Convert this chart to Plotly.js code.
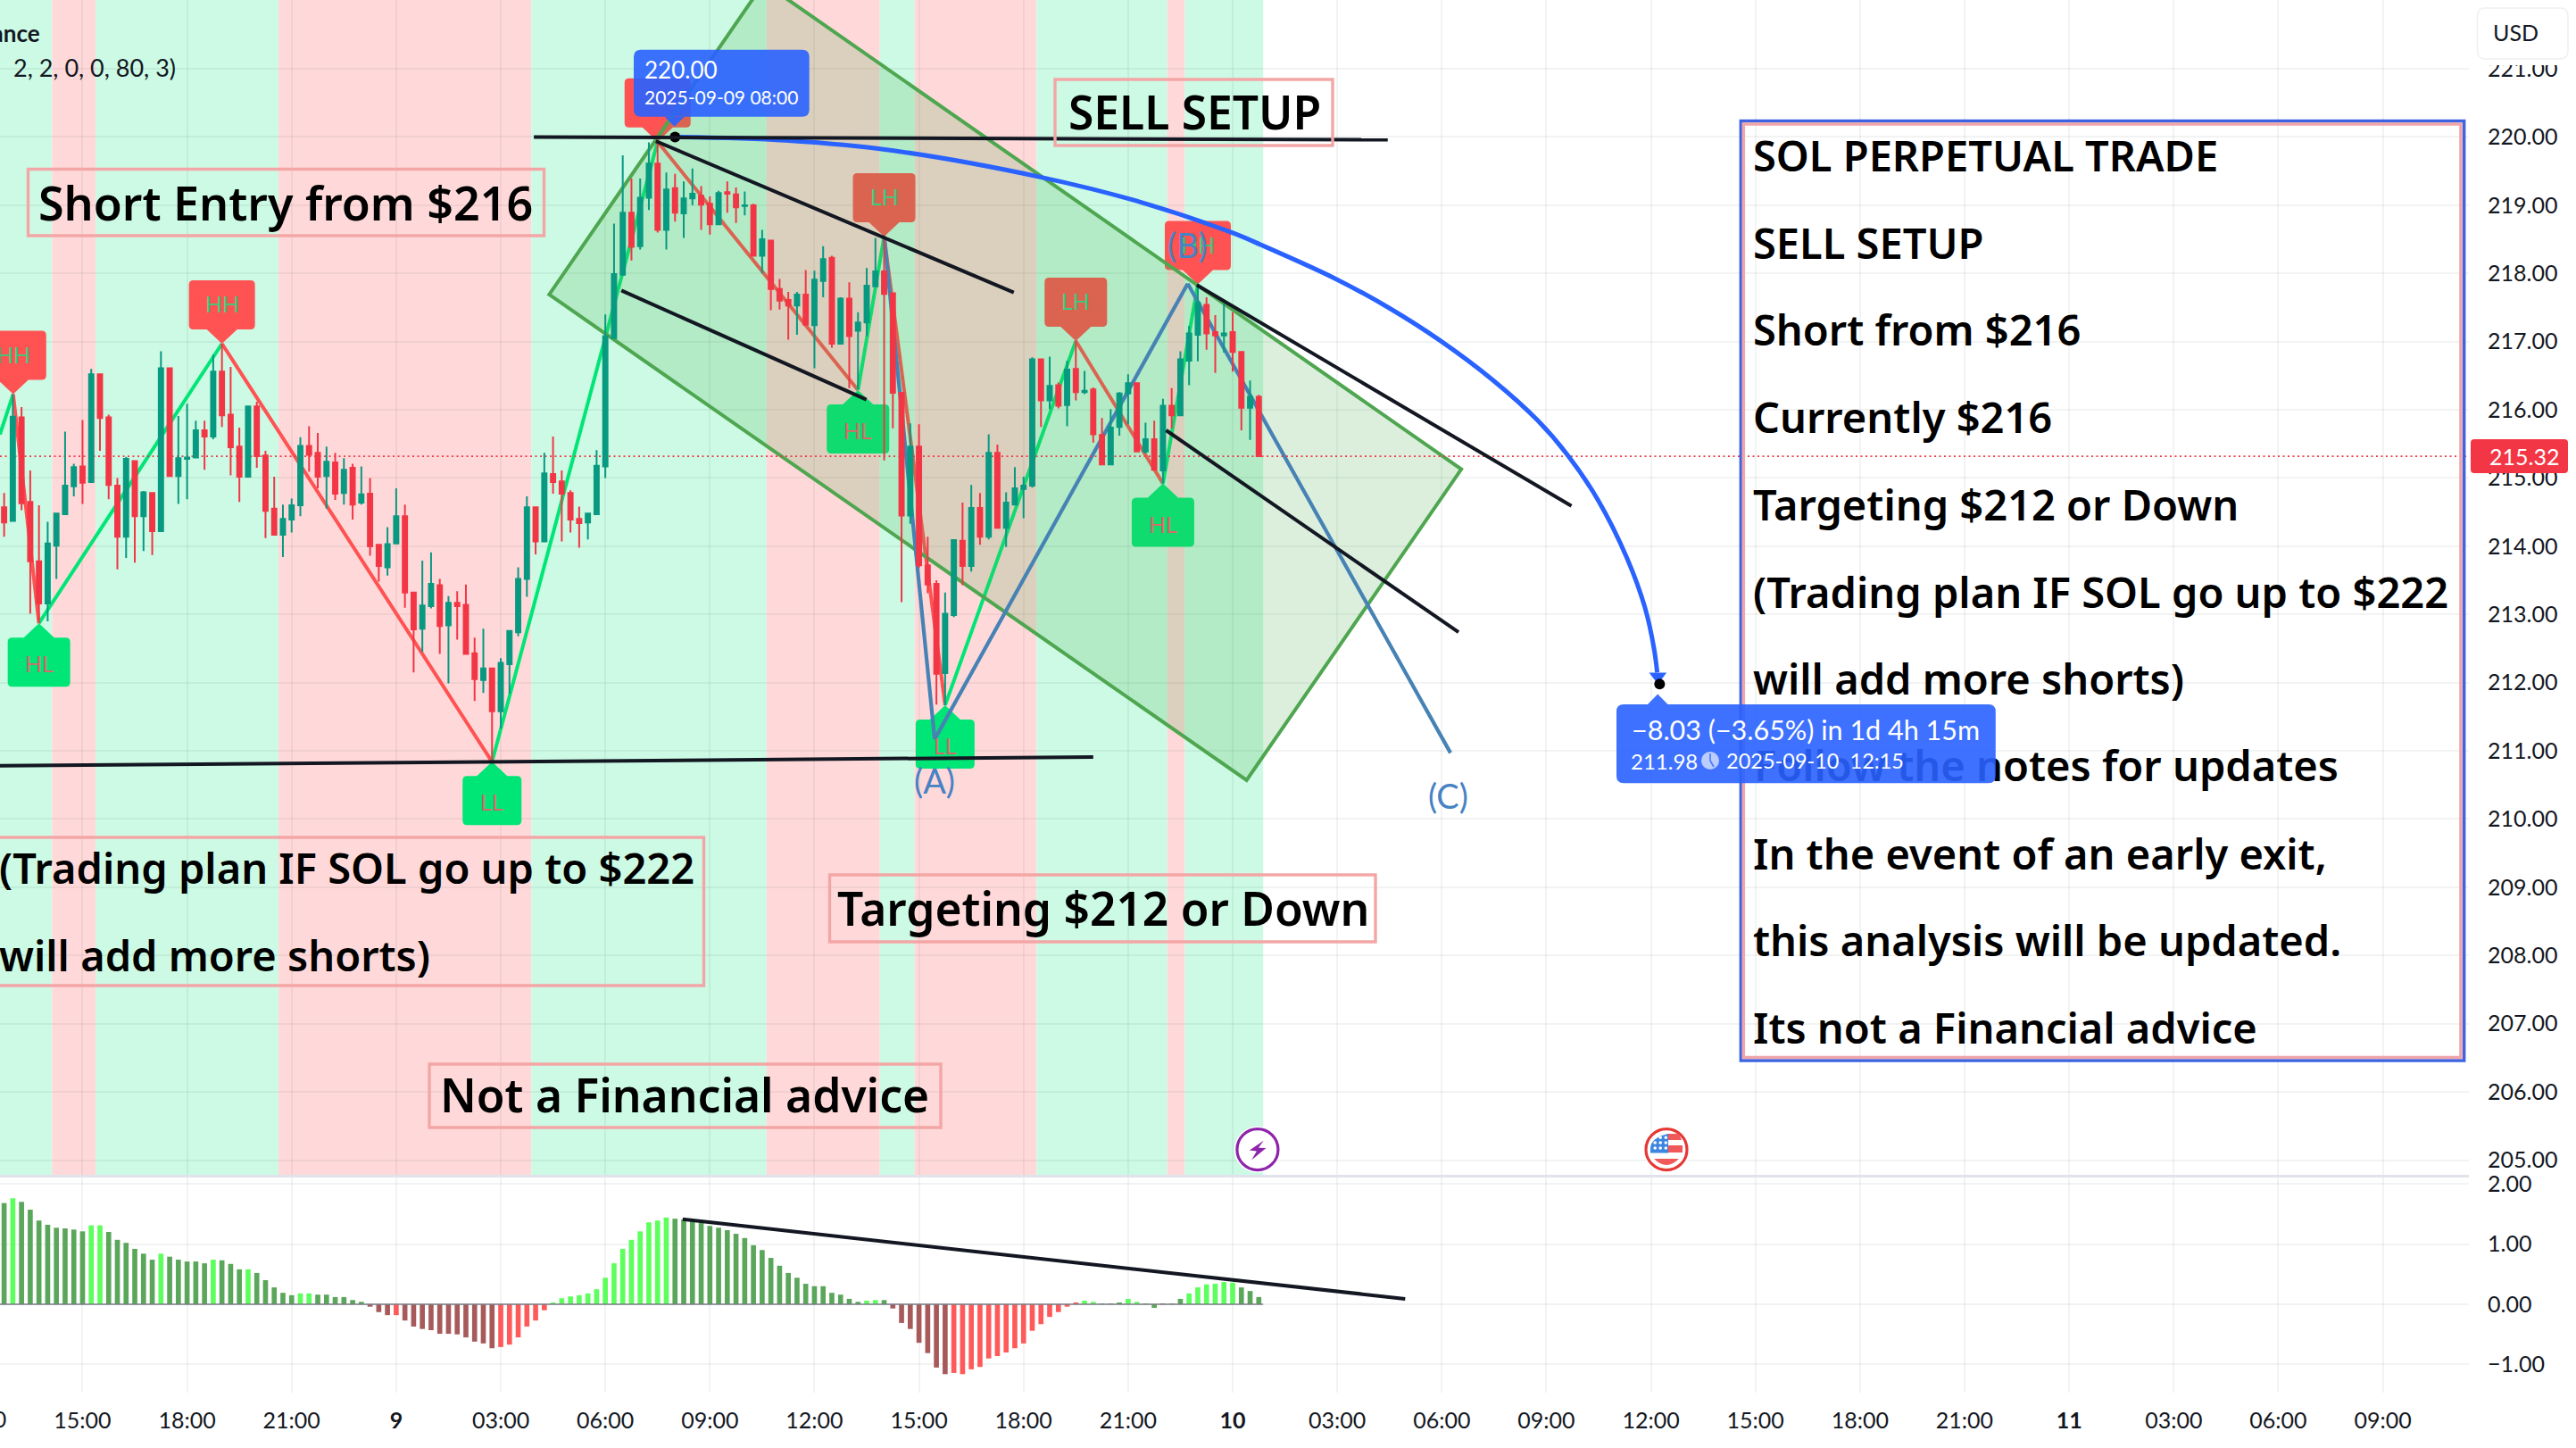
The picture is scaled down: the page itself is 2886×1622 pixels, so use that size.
<!DOCTYPE html>
<html><head><meta charset="utf-8">
<script src="https://cdn.plot.ly/plotly-3.0.1.min.js"></script>
<style>html,body{margin:0;padding:0;background:#fff}#chart{width:2886px;height:1622px}</style>
</head><body><div id="chart"></div>
<script>
// time is expressed in hours from 2025-09-09 00:00
const firstBarHour = -11.25, barStep = 0.25;
const barOpen = [214.57,214.37,215.89,214.65,213.78,213.16,214.01,214.47,214.88,215.17,214.94,216.52,215.89,214.89,214.14,215.25,214.44,214.78,214.22,216.61,215.03,215.28,215.30,215.70,215.61,216.56,215.93,215.46,215.02,216.05,215.33,214.55,214.17,214.39,214.60,215.47,215.37,215.03,215.23,214.78,215.15,214.64,214.77,214.02,213.69,214.04,214.44,213.32,212.79,213.12,213.43,212.84,213.17,213.14,212.43,212.04,212.21,211.58,212.27,212.74,213.52,214.57,214.07,215.06,214.95,214.78,214.40,214.35,214.47,215.17,217.05,217.98,218.89,218.40,219.11,219.61,218.64,219.25,218.88,219.10,219.14,219.02,218.72,219.19,219.16,218.99,219.00,218.26,218.48,217.77,217.61,217.53,217.69,217.24,217.89,218.23,216.97,217.63,217.16,217.28,217.81,218.03,217.71,216.25,214.45,215.46,213.72,213.45,212.14,212.99,214.08,213.71,214.56,214.14,215.37,214.27,214.61,214.84,214.89,216.74,216.14,216.36,216.07,216.60,216.26,216.30,215.63,215.20,215.75,216.24,216.39,215.39,215.57,215.11,216.06,215.92,216.72,217.10,217.54,217.14,217.09,217.14,216.85,216.03,216.19];
const barHigh = [214.78,216.23,216.04,215.11,214.60,214.36,214.49,215.68,215.21,215.85,216.60,216.52,215.93,215.00,215.31,215.25,214.81,214.78,216.86,216.61,215.91,216.09,215.84,215.84,216.81,216.97,216.63,215.74,216.05,216.12,215.40,215.02,214.61,214.70,215.60,215.76,215.66,215.46,215.37,215.29,215.21,215.17,215.00,214.02,214.28,214.85,214.61,213.32,213.79,213.91,213.52,213.27,213.34,213.44,212.66,212.79,212.21,212.36,212.77,213.69,214.73,214.57,215.37,215.61,215.11,214.82,214.58,214.48,215.41,217.40,218.73,219.73,219.39,219.39,219.92,219.93,219.48,219.46,219.35,219.54,219.28,219.13,219.21,219.35,219.26,219.20,219.02,218.64,218.48,217.92,217.73,217.73,218.05,218.04,218.40,218.26,217.65,217.87,217.43,218.08,218.52,218.56,217.71,216.25,215.80,215.79,214.14,213.50,213.32,214.10,214.64,214.90,214.78,215.64,215.49,214.79,215.16,215.02,216.77,216.74,216.78,216.40,216.72,217.02,216.57,216.33,215.88,216.01,216.26,216.52,216.40,215.81,215.84,216.16,216.32,216.86,217.23,217.84,217.65,217.39,217.56,217.43,216.86,216.43,216.22];
const barLow = [214.14,214.37,214.53,213.01,212.87,212.90,213.52,214.47,214.73,214.62,214.94,215.40,214.69,213.66,213.83,213.76,213.93,213.87,214.22,215.03,214.62,214.69,215.30,215.12,215.57,215.75,215.04,214.65,215.02,215.15,214.12,214.17,213.84,214.20,214.44,215.09,214.85,214.55,214.68,214.61,214.39,214.61,213.86,213.48,213.57,214.04,213.10,212.15,212.45,213.09,212.42,211.99,212.63,212.42,211.73,211.85,210.84,211.33,211.84,212.68,213.26,213.88,214.07,214.77,214.07,214.20,213.98,214.10,214.47,215.00,217.05,217.98,218.19,218.35,218.93,218.60,218.35,218.76,218.52,219.00,218.64,218.57,218.72,218.89,218.74,218.85,218.26,218.00,217.46,217.47,217.03,217.10,217.23,216.61,217.65,216.91,216.96,216.32,216.30,217.08,217.81,215.26,215.73,213.18,214.33,213.68,213.31,211.68,211.67,212.96,213.43,213.63,214.02,214.10,214.27,213.99,214.61,214.41,214.86,215.75,216.01,216.02,215.76,216.14,216.23,215.52,215.20,215.20,215.62,215.79,215.39,215.36,215.11,214.92,215.73,215.92,216.36,216.71,216.88,216.54,216.84,216.56,215.70,215.56,215.32];
const barClose = [214.35,215.90,214.63,213.78,213.16,214.04,214.48,214.89,215.16,214.93,216.52,215.88,214.90,214.14,215.28,214.44,214.79,214.22,216.61,215.03,215.29,215.30,215.70,215.61,216.56,215.92,215.45,215.02,216.05,215.32,214.52,214.17,214.40,214.60,215.47,215.34,215.02,215.24,214.77,215.12,214.61,214.76,214.00,213.71,214.03,214.44,213.32,212.78,213.13,213.45,212.83,213.17,213.12,212.42,212.05,212.21,211.58,212.29,212.76,213.52,214.57,214.07,215.07,214.94,214.77,214.39,214.34,214.48,215.18,217.08,217.99,218.89,218.39,219.11,219.61,218.64,219.23,218.89,219.10,219.17,219.01,218.72,219.18,219.17,218.97,219.00,218.26,218.50,217.77,217.60,217.53,217.69,217.25,217.91,218.21,216.97,217.63,217.08,217.28,217.82,218.03,217.70,216.25,214.45,215.46,213.72,213.44,212.13,213.01,214.09,213.71,214.56,214.14,215.37,214.27,214.64,214.85,214.89,216.74,216.14,216.35,216.06,216.59,216.26,216.28,215.64,215.20,215.74,216.24,216.39,215.39,215.57,215.12,216.06,215.92,216.74,217.12,217.57,217.12,217.09,217.12,216.85,216.03,216.19,215.32];
const oscValues = [1.68,1.76,1.70,1.57,1.39,1.32,1.27,1.26,1.24,1.21,1.31,1.31,1.20,1.07,1.02,0.92,0.84,0.74,0.84,0.79,0.74,0.71,0.71,0.68,0.74,0.73,0.67,0.58,0.58,0.52,0.40,0.28,0.19,0.15,0.18,0.18,0.16,0.16,0.12,0.12,0.07,0.04,-0.04,-0.13,-0.18,-0.18,-0.27,-0.37,-0.41,-0.43,-0.49,-0.49,-0.50,-0.55,-0.62,-0.65,-0.73,-0.71,-0.67,-0.55,-0.37,-0.27,-0.10,0.03,0.10,0.13,0.15,0.18,0.25,0.44,0.68,0.92,1.07,1.21,1.36,1.39,1.44,1.42,1.41,1.38,1.35,1.30,1.27,1.23,1.17,1.10,0.98,0.90,0.77,0.64,0.52,0.44,0.34,0.30,0.30,0.19,0.16,0.09,0.04,0.06,0.07,0.07,-0.07,-0.31,-0.41,-0.64,-0.81,-1.05,-1.16,-1.14,-1.16,-1.08,-1.04,-0.90,-0.86,-0.80,-0.73,-0.65,-0.44,-0.33,-0.21,-0.13,-0.04,0.03,0.06,0.04,0.01,0.01,0.03,0.09,0.04,0.01,-0.06,0.01,0.01,0.09,0.18,0.28,0.33,0.34,0.37,0.36,0.28,0.22,0.12];
const oscShades = "gGggggggggGGggggggGgggggGgggGgggggGGgggggg"+"rrrRrrrrrrrrrrrRRRRRR"+"GGGGGGGGGGGGGGggggg"+"gggggggggggggggggGGg"+"rrrrrrrRRRRRRRRRRRRRRR"+"GGgggGGggrggGGGGGGgggg";
const oscPalette = {g:'#5AA65A',G:'#5CFF5C',r:'#A85A5A',R:'#FF5A5A'};
const trendEdges = [-13,-9.875,-8.625,-3.375,3.875,10.625,13.875,14.875,18.375,22.125,22.625,24.875];
const trendKinds = ['up','down','up','down','up','down','up','down','up','down','up'];
const pivotHours  = [-10.99,-10.25,-5,2.75,7.5,13.25,14,15.75,19.5,22,23];
const pivotPrices = [216.23,212.87,216.97,210.84,219.93,216.29,218.54,211.67,217.01,214.92,217.84];
const pivotTags   = ['HH','HL','HH','LL','HH','HL','LH','LL','LH','HL','HH'];
const waveHours = [14,15.45,22.71,30.25];
const wavePrices = [218.54,211.17,217.85,210.97];
const waveTags = [null,'(A)','(B)','(C)'];
const blackLines = [[3.95,220,28.45,219.96],[-12,210.78,20,210.91],[7.45,219.94,17.72,217.72],[22.97,217.83,33.72,214.59],[6.46,217.75,13.49,216.15],[22.09,215.70,30.48,212.74]];
const channelHours = [4.39,24.4,30.56,10.55];
const channelPrices = [217.69,210.57,215.13,222.26];
const arrowHours = [8,11.17,14.27,18.51,21.33,23.97,24.81,26.96,28.5,29.94,31.48,32.76,33.62,34.48,35.32,35.83,36.09,36.18];
const arrowPrices = [220,219.95,219.8,219.41,219.05,218.6,218.42,217.92,217.49,217.02,216.43,215.84,215.33,214.68,213.82,213.1,212.5,212.15];
const lastPrice = 215.32;
const priceTicks = [205,206,207,208,209,210,211,212,213,214,215,216,217,218,219,220,221];
const oscTicks = [-1,0,1,2];
const oscTickText = ['\u22121.00','0.00','1.00','2.00'];
const timeTicks = [-9,-6,-3,0,3,6,9,12,15,18,21,24,27,30,33,36,39,42,45,48,51,54,57];
const timeText = ['15:00','18:00','21:00','<b>9</b>','03:00','06:00','09:00','12:00','15:00','18:00','21:00','<b>10</b>','03:00','06:00','09:00','12:00','15:00','18:00','21:00','<b>11</b>','03:00','06:00','09:00'];
const panelLines = ['SOL PERPETUAL TRADE','SELL SETUP','Short from $216','Currently $216','Targeting $212 or Down','(Trading plan IF SOL go up to $222','will add more shorts)','Follow the notes for updates','In the event of an early exit,','this analysis will be updated.','Its not a Financial advice'];

const W=2886,H=1622,FONT='Lato',BIGFONT='Noto Sans',INK='#131722',BIG=47,BIGLARGE=51.5,BIGW=600;
const px=x=>x/W, py=y=>1-y/H;
const barHours=barOpen.map((_,i)=>firstBarHour+i*barStep);
const xr=[-11.368,59.47];

function rr(x0,y0,x1,y1,r){
  const Y=v=>-v;
  return `M${x0+r},${Y(y0)} L${x1-r},${Y(y0)} Q${x1},${Y(y0)} ${x1},${Y(y0+r)} L${x1},${Y(y1-r)} Q${x1},${Y(y1)} ${x1-r},${Y(y1)} L${x0+r},${Y(y1)} Q${x0},${Y(y1)} ${x0},${Y(y1-r)} L${x0},${Y(y0+r)} Q${x0},${Y(y0)} ${x0+r},${Y(y0)} Z`;
}
function page(path,fill,line){return {type:'path',layer:'above',xref:'paper',yref:'paper',xsizemode:'pixel',ysizemode:'pixel',xanchor:0,yanchor:1,path,fillcolor:fill,line:line||{width:0}};}
function disc(cx,cy,r,fill,line){return {type:'circle',layer:'above',xref:'paper',yref:'paper',xsizemode:'pixel',ysizemode:'pixel',xanchor:px(cx),yanchor:py(cy),x0:-r,x1:r,y0:-r,y1:r,fillcolor:fill,line:line||{width:0}};}
function box(x0,y0,x1,y1,color,w){return {type:'rect',layer:'above',xref:'paper',yref:'paper',x0:px(x0),x1:px(x1),y0:py(y0),y1:py(y1),line:{color,width:w},fillcolor:'rgba(0,0,0,0)'};}
function txt(text,x,y,size,color,opt){return Object.assign({text,xref:'paper',yref:'paper',x:px(x),y:py(y),xanchor:'left',yanchor:'middle',showarrow:false,font:{family:FONT,size,color}},opt||{});}
function big(text,x,y,size){const a=txt(text,x,y,size||BIG,'#000');a.font.family=BIGFONT;a.font.weight=BIGW;return a;}
function bigC(text,x,y){const a=big(text,x,y,BIGLARGE);a.xanchor='center';return a;}

const shapes=[],annotations=[];
trendKinds.forEach((k,i)=>shapes.push({type:'rect',layer:'below',xref:'x',yref:'y',x0:trendEdges[i],x1:trendEdges[i+1],y0:204,y1:223,fillcolor:k==='up'?'#CCFAE4':'#FFD9D9',line:{width:0}}));
const zzH=[-11.37].concat(pivotHours), zzP=[215.64].concat(pivotPrices);
for(let i=0;i<zzH.length-1;i++){shapes.push({type:'line',layer:'between',xref:'x',yref:'y',x0:zzH[i],x1:zzH[i+1],y0:zzP[i],y1:zzP[i+1],line:{color:zzP[i+1]>zzP[i]?'#00E676':'#FF5252',width:4}});}
pivotTags.forEach((tag,i)=>{
  const up=tag==='HH'||tag==='LH', w=(tag==='HH'?74:tag==='LL'?66:70)/2, s=up?1:-1, r=5;
  const path=`M0,0 L-17,${s*16} L${-w+r},${s*16} Q${-w},${s*16} ${-w},${s*(16+r)} L${-w},${s*(71-r)} Q${-w},${s*71} ${-w+r},${s*71} L${w-r},${s*71} Q${w},${s*71} ${w},${s*(71-r)} L${w},${s*(16+r)} Q${w},${s*16} ${w-r},${s*16} L17,${s*16} Z`;
  shapes.push({type:'path',layer:'between',xref:'x',yref:'y',xsizemode:'pixel',ysizemode:'pixel',xanchor:pivotHours[i],yanchor:pivotPrices[i],path,fillcolor:up?'#FF5252':'#00E676',line:{width:0}});
  if(i!==4) annotations.push({text:tag,xref:'x',yref:'y',x:pivotHours[i],y:pivotPrices[i],yshift:s*45,showarrow:false,xanchor:'center',yanchor:'middle',font:{family:FONT,size:25,color:up?'#3CCB7F':'#D9686A'}});
});
shapes.push({type:'path',layer:'between',xref:'x',yref:'y',path:channelHours.map((h,i)=>(i?'L':'M')+h+','+channelPrices[i]).join(' ')+' Z',fillcolor:'rgba(76,175,80,0.2)',line:{color:'#4FA650',width:4}});
for(let i=0;i<waveHours.length-1;i++){shapes.push({type:'line',layer:'between',xref:'x',yref:'y',x0:waveHours[i],x1:waveHours[i+1],y0:wavePrices[i],y1:wavePrices[i+1],line:{color:'#4682B4',width:4.2}});}
shapes.push({type:'line',layer:'between',xref:'x',yref:'y',x0:xr[0],x1:xr[1],y0:lastPrice,y1:lastPrice,line:{color:'#F23645',width:1.8,dash:'2px,3.5px'}});
blackLines.forEach(l=>shapes.push({type:'line',layer:'above',xref:'x',yref:'y',x0:l[0],y0:l[1],x1:l[2],y1:l[3],line:{color:INK,width:4}}));
shapes.push({type:'line',layer:'above',xref:'x2',yref:'y2',x0:8.22,y0:1.41,x1:28.95,y1:0.09,line:{color:INK,width:4}});
shapes.push({type:'line',layer:'above',xref:'x2',yref:'y2',x0:xr[0],y0:0,x1:24.875,y1:0,line:{color:'rgba(120,123,134,0.75)',width:2}});
shapes.push({type:'line',layer:'above',xref:'paper',yref:'paper',x0:0,x1:px(2766),y0:py(1317.5),y1:py(1317.5),line:{color:'#E0E3EB',width:3}});
shapes.push(box(1950.3,135.5,2760.7,1188,'#3D63E3',3.4));
shapes.push(box(1953.3,139,2757,1184.5,'#F0A5AB',3.6));
shapes.push(box(31.5,189.5,609.5,264,'#F4A6A6',3.4));
shapes.push(box(1182,89,1493,163,'#F4A6A6',3.4));
shapes.push(box(-20,938,788.5,1104,'#F4A6A6',3.4));
shapes.push(box(929.5,980,1541,1055,'#F4A6A6',3.4));
shapes.push(box(481,1192,1054,1263,'#F4A6A6',3.4));
shapes.push(disc(1408.9,1287.7,26,'#fff'));
shapes.push(disc(1408.9,1287.7,23,'#fff',{color:'#8E24AA',width:3.2}));
shapes.push({type:'path',layer:'above',xref:'paper',yref:'paper',xsizemode:'pixel',ysizemode:'pixel',xanchor:px(1408.9),yanchor:py(1287.7),path:'M6.8,10 L-9.1,-0.7 L-1,-1.7 L-6.8,-11.7 L9.5,1.7 L1,2 Z',fillcolor:'#8E24AA',line:{width:0}});
shapes.push(disc(1867,1287.7,26,'#fff'));
shapes.push(disc(1867,1287.7,23,'#fff',{color:'#E53935',width:3.2}));
shapes.push(page('M1878,-1270 L1881,-1270 L1884,-1277 L1869,-1277 L1869,-1270 Z','#F0595A'));
shapes.push(page('M1869,-1283 L1885,-1283 L1885,-1291 L1869,-1291 Z','#F0595A'));
shapes.push(page('M1853,-1298 L1881,-1298 Q1874,-1305 1867,-1305 Q1860,-1305 1853,-1298 Z','#F0595A'));
shapes.push(page('M1849,-1291.5 L1849,-1286 Q1850,-1274 1869,-1270 L1869,-1291.5 Z','#3D85E0'));
[-12.8,-6.8,-0.7].forEach(dx=>[-13.4,-7.7,-1.7].forEach(dy=>shapes.push(disc(1867+dx,1287.7+dy,1.8,'#fff'))));
shapes.push(page('M2767,0 L2886,0 L2886,-73 L2767,-73 Z','#fff'));
shapes.push(page(rr(2775.5,9,2877,66,9),'#fff',{color:'#EEF0F4',width:1.5}));
shapes.push(page(rr(2768,492,2877,530,4),'#F23645'));
shapes.push({type:'rect',layer:'above',xref:'paper',yref:'paper',x0:px(1962),x1:px(2700),y0:py(887),y1:py(832),line:{width:0},fillcolor:'rgba(0,0,0,0)',label:{text:panelLines[7],textposition:'middle left',padding:0,font:{family:BIGFONT,size:BIG,color:'#000',weight:BIGW}}});
shapes.push(page(rr(710,55.7,906.7,130.7,8),'rgba(41,98,255,0.9)'));
shapes.push(page('M744.5,-130.7 L755.7,-141.7 L767,-130.7 Z','rgba(41,98,255,0.9)'));
shapes.push(page(rr(1811,789,2235.8,877.3,8),'rgba(41,98,255,0.9)'));
shapes.push(page('M1846,-789 L1857.2,-777.5 L1868.5,-789 Z','rgba(41,98,255,0.9)'));
shapes.push(disc(1916,852,10,'rgba(255,255,255,0.65)'));
shapes.push(page('M1916,-844 L1916,-852 L1920,-859','rgba(0,0,0,0)',{color:'rgba(41,98,255,0.8)',width:1.6}));

annotations.push(big('Short Entry from $216',41,226,52));
annotations.push(bigC('SELL SETUP',1338,125));
annotations.push(big(panelLines[5],-3,972));
annotations.push(big(panelLines[6],-3,1070));
annotations.push(bigC('Targeting $212 or Down',1236,1017));
annotations.push(bigC('Not a Financial advice',767,1226));
panelLines.forEach((t,i)=>{ if(i!==7) annotations.push(big(t,1962,174+i*97.72)); });
annotations.push(txt('<b>Solana / TetherUS PERPETUAL \u00b7 15 \u00b7 Binance</b>',47,37,26,INK,{xanchor:'right'}));
annotations.push(txt('2, 2, 0, 0, 80, 3)',199,75,27,INK,{xanchor:'right'}));
annotations.push(txt('USD',2791,36,25,INK));
annotations.push(txt('215.32',2787,511,25,'#fff'));
annotations.push(txt('220.00',720,78,26,'#fff'));
annotations.push(txt('2025-09-09 08:00',720,108,21,'#fff'));
annotations.push(txt('\u22128.03 (\u22123.65%) in 1d 4h 15m',1826,817,30.5,'#fff'));
annotations.push(txt('211.98',1825,852,24,'#fff'));
annotations.push(txt('2025-09-10  12:15',1932,852,23.5,'#fff'));
annotations.push(txt('12:00',-24.7,1589,25,INK,{xanchor:'center'}));
waveTags.forEach((t,i)=>{ if(!t) return;
  const yoff=i===1?-46:i===2?44:-48;
  annotations.push({text:t,xref:'x',yref:'y',x:waveHours[i],y:wavePrices[i],yshift:yoff,xshift:i===3?-3:0,showarrow:false,xanchor:'center',yanchor:'middle',font:{family:FONT,size:38,color:'#4682C4'}});
});

const traces=[
 {type:'candlestick',x:barHours,open:barOpen,high:barHigh,low:barLow,close:barClose,xaxis:'x',yaxis:'y',whiskerwidth:0,hoverinfo:'skip',
  increasing:{line:{color:'#089981',width:2},fillcolor:'#089981'},decreasing:{line:{color:'#F23645',width:2},fillcolor:'#F23645'}},
 {type:'scatter',mode:'lines',x:arrowHours,y:arrowPrices,xaxis:'x',yaxis:'y',line:{color:'#2962FF',width:5,shape:'spline',smoothing:1},hoverinfo:'skip'},
 {type:'scatter',mode:'markers',x:[36.2],y:[212.09],xaxis:'x',yaxis:'y',marker:{symbol:'triangle-down',size:17,color:'#2962FF'},hoverinfo:'skip'},
 {type:'scatter',mode:'markers',x:[8,36.25],y:[220,211.98],xaxis:'x',yaxis:'y',marker:{size:12,color:'#000'},hoverinfo:'skip'},
 {type:'bar',x:barHours,y:oscValues,xaxis:'x2',yaxis:'y2',width:0.145,marker:{color:[...oscShades].map(c=>oscPalette[c]),line:{width:0}},hoverinfo:'skip'}
];
const grid='rgba(42,46,57,0.06)';
const layout={
 width:W,height:H,margin:{l:0,r:0,t:0,b:0,pad:0},paper_bgcolor:'#fff',plot_bgcolor:'#fff',showlegend:false,boxgap:0.28,hovermode:false,
 font:{family:FONT,size:25,color:INK},
 xaxis:{type:'linear',domain:[0,2766/W],range:xr,anchor:'y',tickvals:timeTicks,ticktext:timeText,showticklabels:false,ticks:'',showgrid:true,gridcolor:grid,gridwidth:2,zeroline:false,rangeslider:{visible:false},fixedrange:true},
 yaxis:{type:'linear',domain:[(H-1316)/H,1],range:[204.784,222.009],anchor:'x',side:'right',tickvals:priceTicks,ticktext:priceTicks.map(v=>v.toFixed(2)),ticks:'outside',ticklen:15,tickcolor:'rgba(0,0,0,0)',tickfont:{family:FONT,size:25,color:INK},showgrid:true,gridcolor:grid,gridwidth:2,zeroline:false,fixedrange:true},
 xaxis2:{type:'linear',domain:[0,2766/W],range:xr,anchor:'y2',tickvals:timeTicks,ticktext:timeText,ticks:'outside',ticklen:9,tickcolor:'rgba(0,0,0,0)',tickangle:0,tickfont:{family:FONT,size:25,color:INK},showgrid:true,gridcolor:grid,gridwidth:2,zeroline:false,fixedrange:true},
 yaxis2:{type:'linear',domain:[(H-1560)/H,(H-1318)/H],range:[-1.467,2.119],anchor:'x2',side:'right',tickvals:oscTicks,ticktext:oscTickText,ticks:'outside',ticklen:15,tickcolor:'rgba(0,0,0,0)',tickfont:{family:FONT,size:25,color:INK},showgrid:true,gridcolor:grid,gridwidth:2,zeroline:false,fixedrange:true},
 shapes,annotations
};
Plotly.newPlot('chart',traces,layout,{displayModeBar:false,responsive:false});
</script></body></html>
